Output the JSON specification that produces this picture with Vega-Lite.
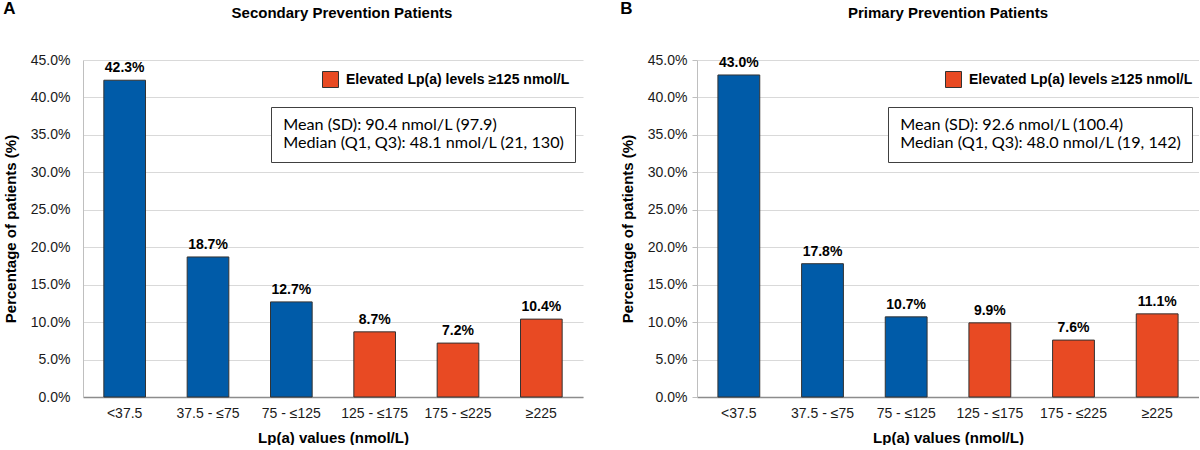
{
  "$schema": "https://vega.github.io/schema/vega-lite/v6.json",
  "padding": {"left": 3, "top": 0, "right": 0, "bottom": 0},
  "datasets": {
    "secondary": [
      {"range": "<37.5", "share": 0.423, "group": "Normal"},
      {"range": "37.5 - ≤75", "share": 0.187, "group": "Normal"},
      {"range": "75 - ≤125", "share": 0.127, "group": "Normal"},
      {"range": "125 - ≤175", "share": 0.087, "group": "Elevated"},
      {"range": "175 - ≤225", "share": 0.072, "group": "Elevated"},
      {"range": "≥225", "share": 0.104, "group": "Elevated"}
    ],
    "primary": [
      {"range": "<37.5", "share": 0.430, "group": "Normal"},
      {"range": "37.5 - ≤75", "share": 0.178, "group": "Normal"},
      {"range": "75 - ≤125", "share": 0.107, "group": "Normal"},
      {"range": "125 - ≤175", "share": 0.099, "group": "Elevated"},
      {"range": "175 - ≤225", "share": 0.076, "group": "Elevated"},
      {"range": "≥225", "share": 0.111, "group": "Elevated"}
    ],
    "statsA": [
      {"line": "Mean (SD): 90.4 nmol/L  (97.9)"},
      {"line": "Median (Q1, Q3): 48.1 nmol/L (21, 130)"}
    ],
    "statsB": [
      {"line": "Mean (SD): 92.6 nmol/L (100.4)"},
      {"line": "Median (Q1, Q3): 48.0 nmol/L (19, 142)"}
    ]
  },
  "spacing": 37,
  "resolve": {
    "scale": {"color": "independent", "shape": "independent"},
    "legend": {"color": "independent", "shape": "independent"}
  },
  "hconcat": [
    {
      "title": {"text": "A", "anchor": "start", "frame": "bounds", "fontSize": 17, "fontWeight": "bold", "offset": -12},
      "vconcat": [
        {
          "title": {"text": "Secondary Prevention Patients", "fontSize": 15, "fontWeight": "bold", "offset": 32, "dx": 9},
          "width": 500,
          "height": 337,
          "layer": [
            {
              "data": {"name": "secondary"},
              "mark": {"type": "bar", "stroke": "#333333", "strokeWidth": 1},
              "encoding": {
                "x": {
                  "field": "range", "type": "nominal",
                  "sort": ["<37.5", "37.5 - ≤75", "75 - ≤125", "125 - ≤175", "175 - ≤225", "≥225"],
                  "scale": {"paddingInner": 0.5, "paddingOuter": 0.25},
                  "axis": {"title": "Lp(a) values (nmol/L)", "labelAngle": 0, "tickSize": 0, "labelPadding": 9, "titlePadding": 10, "domainColor": "#8c8c8c", "domainWidth": 1.5}
                },
                "y": {
                  "field": "share", "type": "quantitative",
                  "scale": {"domain": [0, 0.45], "nice": false},
                  "axis": {"title": "Percentage of patients (%)", "format": ".1%", "tickCount": 12, "values": [0, 0.05, 0.1, 0.15, 0.2, 0.25, 0.3, 0.35, 0.4, 0.45], "labelOverlap": false, "tickSize": 0, "labelPadding": 13, "titlePadding": 12, "domainColor": "#bfbfbf"}
                },
                "color": {
                  "field": "group", "type": "nominal",
                  "scale": {"domain": ["Normal", "Elevated"], "range": ["#005ba8", "#e84a23"]},
                  "legend": {
                    "values": ["Elevated"], "labelExpr": "'Elevated Lp(a) levels ≥125 nmol/L'",
                    "title": null, "orient": "none", "legendX": 239, "legendY": 11, "padding": 0,
                    "symbolType": "square", "symbolSize": 256, "symbolStrokeColor": "#333333", "symbolStrokeWidth": 1, "symbolOpacity": 1,
                    "labelFontWeight": "bold", "labelFontSize": 14, "labelColor": "black", "labelOffset": 7, "labelLimit": 400
                  }
                }
              }
            },
            {
              "data": {"name": "secondary"},
              "mark": {"type": "text", "fontWeight": "bold", "fontSize": 14, "baseline": "bottom", "dy": -5, "color": "black"},
              "encoding": {
                "x": {"field": "range", "type": "nominal", "sort": ["<37.5", "37.5 - ≤75", "75 - ≤125", "125 - ≤175", "175 - ≤225", "≥225"]},
                "y": {
                  "field": "share", "type": "quantitative",
                  "scale": {"domain": [0, 0.45], "nice": false},
                  "axis": {"title": "Percentage of patients (%)", "format": ".1%", "tickCount": 12, "values": [0, 0.05, 0.1, 0.15, 0.2, 0.25, 0.3, 0.35, 0.4, 0.45], "labelOverlap": false, "tickSize": 0, "labelPadding": 13, "titlePadding": 12, "domainColor": "#bfbfbf"}
                },
                "text": {"field": "share", "format": ".1%"}
              }
            },
            {
              "data": {"name": "statsA"},
              "mark": {"type": "point", "opacity": 0},
              "encoding": {
                "shape": {
                  "field": "line", "type": "nominal",
                  "legend": {
                    "title": null, "orient": "none", "legendX": 188, "legendY": 47,
                    "symbolSize": 1, "symbolOpacity": 0, "symbolStrokeWidth": 0, "labelOffset": -14,
                    "labelFont": "Lato", "labelFontSize": 16.2, "labelColor": "black", "labelLimit": 500,
                    "rowPadding": 1, "padding": 10, "strokeColor": "#404040", "fillColor": "white"
                  }
                }
              }
            }
          ]
        }
      ]
    },
    {
      "title": {"text": "B", "anchor": "start", "frame": "bounds", "fontSize": 17, "fontWeight": "bold", "offset": -12},
      "vconcat": [
        {
          "title": {"text": "Primary Prevention Patients", "fontSize": 15, "fontWeight": "bold", "offset": 32, "dx": 0},
          "width": 502,
          "height": 337,
          "layer": [
            {
              "data": {"name": "primary"},
              "mark": {"type": "bar", "stroke": "#333333", "strokeWidth": 1},
              "encoding": {
                "x": {
                  "field": "range", "type": "nominal",
                  "sort": ["<37.5", "37.5 - ≤75", "75 - ≤125", "125 - ≤175", "175 - ≤225", "≥225"],
                  "scale": {"paddingInner": 0.5, "paddingOuter": 0.25},
                  "axis": {"title": "Lp(a) values (nmol/L)", "labelAngle": 0, "tickSize": 0, "labelPadding": 9, "titlePadding": 10, "domainColor": "#8c8c8c", "domainWidth": 1.5}
                },
                "y": {
                  "field": "share", "type": "quantitative",
                  "scale": {"domain": [0, 0.45], "nice": false},
                  "axis": {"title": "Percentage of patients (%)", "format": ".1%", "tickCount": 12, "values": [0, 0.05, 0.1, 0.15, 0.2, 0.25, 0.3, 0.35, 0.4, 0.45], "labelOverlap": false, "tickSize": 5, "tickColor": "#bfbfbf", "labelPadding": 5, "titlePadding": 12, "domainColor": "#bfbfbf"}
                },
                "color": {
                  "field": "group", "type": "nominal",
                  "scale": {"domain": ["Normal", "Elevated"], "range": ["#005ba8", "#e84a23"]},
                  "legend": {
                    "values": ["Elevated"], "labelExpr": "'Elevated Lp(a) levels ≥125 nmol/L'",
                    "title": null, "orient": "none", "legendX": 248, "legendY": 11, "padding": 0,
                    "symbolType": "square", "symbolSize": 256, "symbolStrokeColor": "#333333", "symbolStrokeWidth": 1, "symbolOpacity": 1,
                    "labelFontWeight": "bold", "labelFontSize": 14, "labelColor": "black", "labelOffset": 7, "labelLimit": 400
                  }
                }
              }
            },
            {
              "data": {"name": "primary"},
              "mark": {"type": "text", "fontWeight": "bold", "fontSize": 14, "baseline": "bottom", "dy": -5, "color": "black"},
              "encoding": {
                "x": {"field": "range", "type": "nominal", "sort": ["<37.5", "37.5 - ≤75", "75 - ≤125", "125 - ≤175", "175 - ≤225", "≥225"]},
                "y": {
                  "field": "share", "type": "quantitative",
                  "scale": {"domain": [0, 0.45], "nice": false},
                  "axis": {"title": "Percentage of patients (%)", "format": ".1%", "tickCount": 12, "values": [0, 0.05, 0.1, 0.15, 0.2, 0.25, 0.3, 0.35, 0.4, 0.45], "labelOverlap": false, "tickSize": 5, "tickColor": "#bfbfbf", "labelPadding": 5, "titlePadding": 12, "domainColor": "#bfbfbf"}
                },
                "text": {"field": "share", "format": ".1%"}
              }
            },
            {
              "data": {"name": "statsB"},
              "mark": {"type": "point", "opacity": 0},
              "encoding": {
                "shape": {
                  "field": "line", "type": "nominal",
                  "legend": {
                    "title": null, "orient": "none", "legendX": 191, "legendY": 47,
                    "symbolSize": 1, "symbolOpacity": 0, "symbolStrokeWidth": 0, "labelOffset": -14,
                    "labelFont": "Lato", "labelFontSize": 16.2, "labelColor": "black", "labelLimit": 500,
                    "rowPadding": 1, "padding": 10, "strokeColor": "#404040", "fillColor": "white"
                  }
                }
              }
            }
          ]
        }
      ]
    }
  ],
  "config": {
    "font": "Liberation Sans",
    "view": {"stroke": null},
    "title": {"color": "black"},
    "axis": {
      "labelFontSize": 14, "labelColor": "#1a1a1a", "titleFontSize": 15, "titleFontWeight": "bold", "titleColor": "black",
      "gridColor": "#d9d9d9"
    },
    "axisX": {"grid": false}
  }
}
